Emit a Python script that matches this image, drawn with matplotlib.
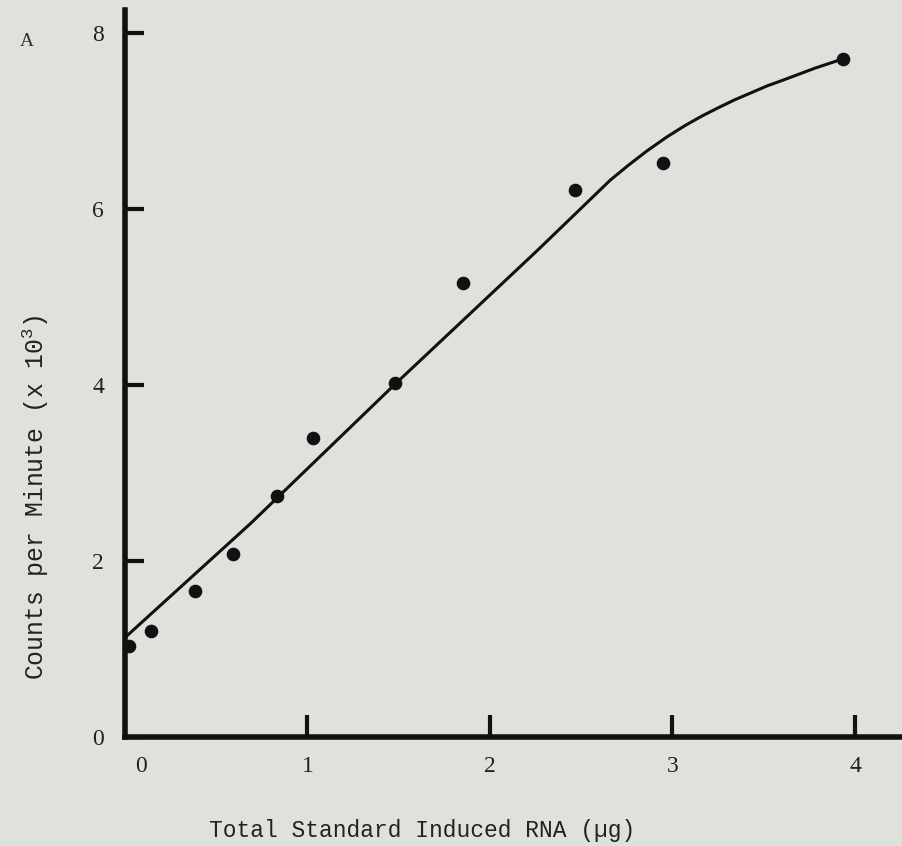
import matplotlib
matplotlib.use("Agg")
import matplotlib.pyplot as plt

plt.rcParams["mathtext.fontset"] = "custom"
plt.rcParams["mathtext.rm"] = "Liberation Mono"

# Data
rna_ug = [0.02, 0.14, 0.385, 0.59, 0.835, 1.03, 1.48, 1.85, 2.465, 2.95, 3.935]
cpm_k = [1.03, 1.21, 1.66, 2.08, 2.74, 3.40, 4.02, 5.16, 6.22, 6.52, 7.70]

curve_x = [0.0, 0.69, 1.48, 2.26, 2.66, 2.76, 2.86, 2.97, 3.07, 3.16, 3.25,
           3.34, 3.43, 3.52, 3.60, 3.69, 3.78, 3.86, 3.94]
curve_y = [1.13, 2.43, 4.01, 5.53, 6.33, 6.50, 6.66, 6.82, 6.95, 7.055, 7.15,
           7.24, 7.32, 7.40, 7.46, 7.53, 7.60, 7.655, 7.71]

xticks = [1, 2, 3, 4]
yticks = [0, 2, 4, 6, 8]

bg = "#dfe1dd"
ink = "#111111"

fig = plt.figure(figsize=(9.03, 8.46), dpi=100, facecolor=bg)
ax = fig.add_axes([125 / 903, 109 / 846, 1 - 125 / 903, 727 / 846])
ax.set_facecolor(bg)

ax.plot(curve_x, curve_y, color=ink, lw=2.2, solid_capstyle="round",
        solid_joinstyle="round", zorder=3)
ax.plot(rna_ug, cpm_k, "o", color=ink, ms=8.8, zorder=4, clip_on=False)

ax.set_xlim(0, 778 / 182.5)
ax.set_ylim(0, 727 / 88)

for side in ("top", "right"):
    ax.spines[side].set_visible(False)
for side in ("left", "bottom"):
    ax.spines[side].set_linewidth(4)
    ax.spines[side].set_color(ink)
    ax.spines[side].set_capstyle("projecting")

serif = "Liberation Serif"
mono = "Liberation Mono"

ax.set_xticks(xticks, labels=[str(t) for t in xticks])
ax.set_xticks([0.085], labels=["0"], minor=True)
ax.set_yticks(yticks, labels=[str(t) for t in yticks])
ax.tick_params(axis="x", which="major", direction="in", length=16, width=3,
               color=ink, pad=14, labelsize=17, labelcolor="#222222")
ax.tick_params(axis="x", which="minor", length=0, pad=14, labelsize=17,
               labelcolor="#222222")
ax.tick_params(axis="y", direction="in", length=14, width=3, color=ink,
               pad=15, labelsize=17, labelcolor="#222222")
for lab in ax.get_xticklabels() + ax.get_xticklabels(minor=True) + ax.get_yticklabels():
    lab.set_fontfamily(serif)

fig.text(422 / 903, 1 - 830 / 846, "Total Standard Induced RNA (\u00b5g)",
         ha="center", va="center", fontsize=16.5, family=mono, color="#222222")
fig.text(36 / 903, 1 - 497 / 846, "Counts per Minute (x 10$^3$)",
         ha="center", va="center", rotation=90, fontsize=17.8, family=mono,
         color="#222222")
fig.text(27 / 903, 1 - 41 / 846, "A", ha="center", va="center",
         fontsize=14, family=serif, color="#333333")

fig.savefig("out.png", dpi=100, facecolor=bg)
